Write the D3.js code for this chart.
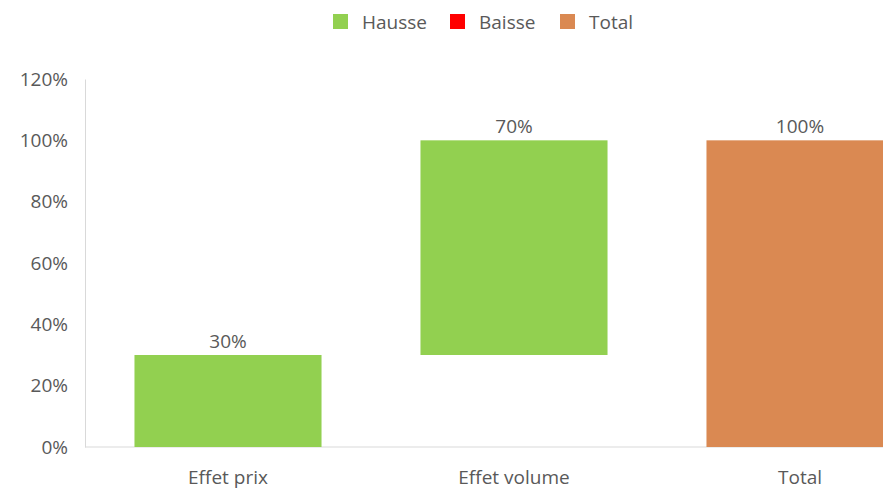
<!DOCTYPE html>
<html>
<head>
<meta charset="utf-8">
<script src="https://cdn.jsdelivr.net/npm/d3@7"></script>
<style>
  body { margin: 0; background: #fff; overflow: hidden; }
  text { font-family: "Open Sans", "Noto Sans", sans-serif; fill: #595959; }
</style>
</head>
<body>
<div id="vis"></div>
<script>
// chart data
var categories = ['Effet prix', 'Effet volume', 'Total'];
var starts = [0, 0.30, 0];
var ends = [0.30, 1.00, 1.00];
var labels = ['30%', '70%', '100%'];
var kinds = ['Hausse', 'Hausse', 'Total'];
var yTicks = [0, 0.2, 0.4, 0.6, 0.8, 1.0, 1.2];
var legendNames = ['Hausse', 'Baisse', 'Total'];

var colors = { Hausse: '#92D050', Baisse: '#FF0000', Total: '#DA8952' };

var width = 883, height = 490;
var plotLeft = 85, plotBottom = 447, plotTop = 79;
var fontSize = '19px';

var svg = d3.select('#vis').append('svg')
  .attr('width', width)
  .attr('height', height);

// band scale runs past the right edge, like the original crop
var x = d3.scaleBand()
  .domain(categories)
  .range([plotLeft, plotLeft + 3 * 286])
  .paddingInner(0.346)
  .paddingOuter(0.173);

var y = d3.scaleLinear()
  .domain([0, 1.2])
  .range([plotBottom, plotTop]);

// y axis labels
var yAxis = svg.append('g')
  .attr('transform', 'translate(' + plotLeft + ',0)')
  .call(d3.axisLeft(y).tickValues(yTicks).tickFormat(d3.format('.0%')).tickSize(0).tickPadding(17));
yAxis.select('.domain').attr('stroke', '#D9D9D9');
yAxis.selectAll('text').style('font-size', fontSize).attr('fill', '#595959')
  .style('font-family', '"Open Sans", "Noto Sans", sans-serif');

// baseline
svg.append('line')
  .attr('x1', plotLeft).attr('x2', width)
  .attr('y1', y(0)).attr('y2', y(0))
  .attr('stroke', '#D9D9D9');

var rows = categories.map(function(c, i) {
  return { cat: c, start: starts[i], end: ends[i], label: labels[i], kind: kinds[i] };
});

// bars
svg.selectAll('.bar')
  .data(rows)
  .enter().append('rect')
  .attr('class', 'bar')
  .attr('x', function(d) { return x(d.cat); })
  .attr('width', x.bandwidth())
  .attr('y', function(d) { return y(d.end); })
  .attr('height', function(d) { return y(d.start) - y(d.end); })
  .attr('fill', function(d) { return colors[d.kind]; });

// value labels
svg.selectAll('.val')
  .data(rows)
  .enter().append('text')
  .attr('class', 'val')
  .attr('x', function(d) { return x(d.cat) + x.bandwidth() / 2; })
  .attr('y', function(d) { return y(d.end) - 7; })
  .attr('text-anchor', 'middle')
  .style('font-size', fontSize)
  .text(function(d) { return d.label; });

// category labels
svg.selectAll('.cat')
  .data(categories)
  .enter().append('text')
  .attr('class', 'cat')
  .attr('x', function(d) { return x(d) + x.bandwidth() / 2; })
  .attr('y', 484)
  .attr('text-anchor', 'middle')
  .style('font-size', fontSize)
  .text(function(d) { return d; });

// legend
var legendX = [333, 450, 560];
var legend = svg.selectAll('.leg')
  .data(legendNames)
  .enter().append('g')
  .attr('class', 'leg')
  .attr('transform', function(d, i) { return 'translate(' + legendX[i] + ',14)'; });
legend.append('rect')
  .attr('width', 15).attr('height', 15)
  .attr('fill', function(d) { return colors[d]; });
legend.append('text')
  .attr('x', 29).attr('y', 15)
  .style('font-size', fontSize)
  .text(function(d) { return d; });
</script>
</body>
</html>
